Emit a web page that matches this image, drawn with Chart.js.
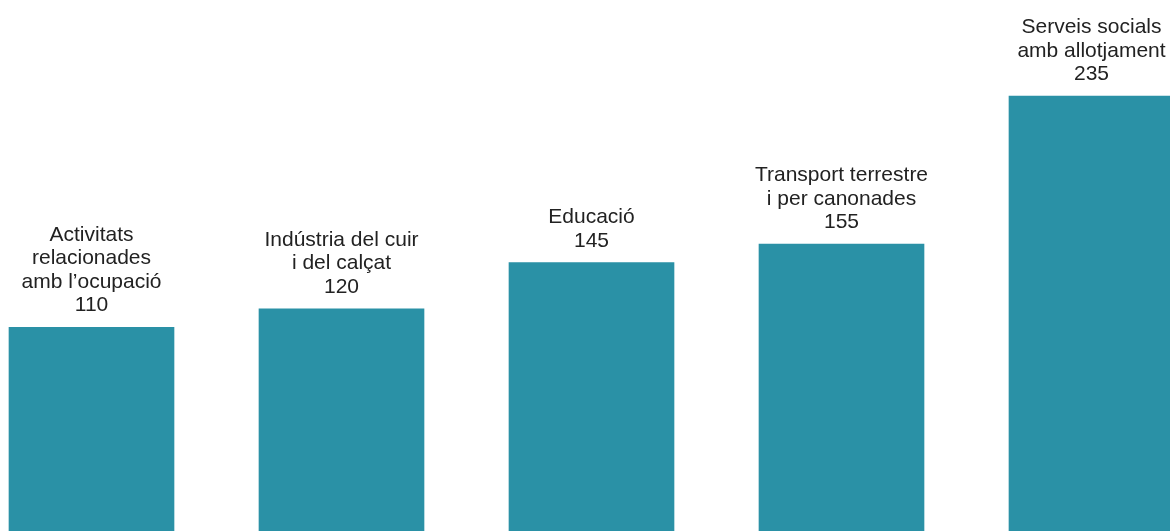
<!DOCTYPE html>
<html>
<head>
<meta charset="utf-8">
<script src="https://cdn.jsdelivr.net/npm/chart.js@4"></script>
<style>
  html, body { margin: 0; padding: 0; background: #fff; }
  #wrap { width: 1170px; height: 531px; position: relative; }
</style>
</head>
<body>
<div id="wrap"><canvas id="chart"></canvas></div>
<script>
// categories (each entry = lines of the label above the bar)
var categories = [
  ["Activitats", "relacionades", "amb l\u2019ocupaci\u00f3"],
  ["Ind\u00fastria del cuir", "i del cal\u00e7at"],
  ["Educaci\u00f3"],
  ["Transport terrestre", "i per canonades"],
  ["Serveis socials", "amb allotjament"]
];
var values = [110, 120, 145, 155, 235];

var points = values.map(function (v, i) {
  return { x: i, y: v };
});

// draw the category name + value above each bar
var barLabels = {
  id: "barLabels",
  afterDatasetsDraw: function (chart) {
    var ctx = chart.ctx;
    var meta = chart.getDatasetMeta(0);
    ctx.save();
    ctx.font = '21px "Liberation Sans", Arial, sans-serif';
    ctx.fillStyle = "#222";
    ctx.textAlign = "center";
    ctx.textBaseline = "alphabetic";
    meta.data.forEach(function (bar, i) {
      var lines = categories[i].concat([String(values[i])]);
      var y = bar.y - 16;
      for (var k = lines.length - 1; k >= 0; k--) {
        ctx.fillText(lines[k], bar.x, y);
        y -= 23.5;
      }
    });
    ctx.restore();
  }
};

new Chart(document.getElementById("chart"), {
  type: "bar",
  data: {
    datasets: [{
      data: points,
      backgroundColor: "#2a91a6",
      barThickness: 165,
      borderWidth: 0
    }]
  },
  options: {
    responsive: true,
    maintainAspectRatio: false,
    animation: false,
    layout: { padding: 0 },
    plugins: {
      legend: { display: false },
      tooltip: { enabled: false }
    },
    scales: {
      x: {
        type: "linear",
        display: false,
        offset: false,
        bounds: "data",
        min: -0.366,
        max: 4.314
      },
      y: {
        display: false,
        min: 0,
        max: 286.9
      }
    }
  },
  plugins: [barLabels]
});
</script>
</body>
</html>
